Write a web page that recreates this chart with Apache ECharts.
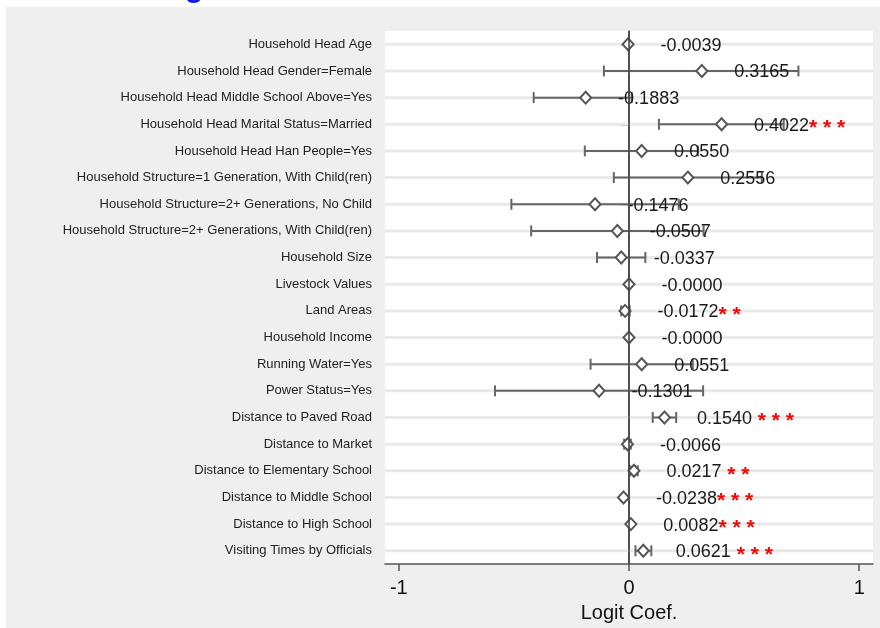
<!DOCTYPE html>
<html>
<head>
<meta charset="utf-8">
<script src="https://cdn.jsdelivr.net/npm/echarts@6/dist/echarts.min.js"></script>
<style>
html,body{margin:0;padding:0;background:#fff;}
#chart{width:880px;height:628px;}
</style>
</head>
<body>
<div id="chart"></div>
<script>
const categories = [
  'Household Head Age',
  'Household Head Gender=Female',
  'Household Head Middle School Above=Yes',
  'Household Head Marital Status=Married',
  'Household Head Han People=Yes',
  'Household Structure=1 Generation, With Child(ren)',
  'Household Structure=2+ Generations, No Child',
  'Household Structure=2+ Generations, With Child(ren)',
  'Household Size',
  'Livestock Values',
  'Land Areas',
  'Household Income',
  'Running Water=Yes',
  'Power Status=Yes',
  'Distance to Paved Road',
  'Distance to Market',
  'Distance to Elementary School',
  'Distance to Middle School',
  'Distance to High School',
  'Visiting Times by Officials'
];
const coefs = [-0.0039, 0.3165, -0.1883, 0.4022, 0.0550, 0.2556, -0.1476, -0.0507, -0.0337, -0.00002,
               -0.0172, -0.00002, 0.0551, -0.1301, 0.1540, -0.0066, 0.0217, -0.0238, 0.0082, 0.0621];
const lower = [null, -0.109, -0.414, 0.130, -0.192, -0.066, -0.511, -0.425, -0.139, null,
               -0.034, null, -0.167, -0.582, 0.103, -0.021, 0.005, null, null, 0.028];
const upper = [null, 0.736, 0.012, 0.672, 0.300, 0.577, 0.216, 0.324, 0.071, null,
               0.003, null, 0.277, 0.322, 0.205, 0.008, 0.038, null, null, 0.097];
const stars = ['', '', '', '***', '', '', '', '', '', '',
               '**', '', '', '', ' ***', '', ' **', '***', '***', ' ***'];
const xTicks = [-1, 0, 1];
const xName = 'Logit Coef.';

const chart = echarts.init(document.getElementById('chart'), null, {renderer: 'canvas'});
const FONT = 'Liberation Sans, Arial, sans-serif';

const errData = [];
categories.forEach((c, i) => { if (lower[i] !== null) errData.push([lower[i], upper[i], i]); });

const option = {
  backgroundColor: '#ffffff',
  animation: false,
  graphic: [
    {type: 'text', z: -20, left: 185, top: -26,
     style: {text: 'g', fontSize: 30, fontWeight: 'bold', fill: '#1010f0', fontFamily: FONT}},
    {type: 'rect', z: -10, shape: {x: 6, y: 7, width: 874, height: 621}, style: {fill: '#efefef'}}
  ],
  grid: {left: 385, right: 7, top: 31, bottom: 60, show: true, backgroundColor: '#ffffff', borderWidth: 0},
  xAxis: {
    type: 'value', min: -1.06, max: 1.06,
    name: xName, nameLocation: 'middle', nameGap: 37,
    nameTextStyle: {fontSize: 20, color: '#111', fontFamily: FONT},
    axisLine: {show: true, onZero: false, lineStyle: {color: '#555', width: 1.5}},
    axisTick: {show: true, length: 7, customValues: xTicks, lineStyle: {color: '#555', width: 1.5}},
    axisLabel: {customValues: xTicks, fontSize: 20, color: '#111', margin: 14, fontFamily: FONT},
    splitLine: {show: false}
  },
  yAxis: {
    type: 'category', data: categories, inverse: true,
    axisLine: {show: true, lineStyle: {color: '#555', width: 1.5}},
    axisTick: {show: true, alignWithLabel: true, length: 8, lineStyle: {color: '#555', width: 1.5}},
    axisLabel: {fontSize: 13, color: '#222', margin: 13, fontFamily: FONT},
    splitLine: {show: false}
  },
  series: [
    {
      type: 'custom', z: 1, silent: true,
      data: categories.map((c, i) => [0, i]),
      encode: {x: 0, y: 1},
      renderItem: function (params, api) {
        const cs = params.coordSys;
        const y = api.coord([0, api.value(1)])[1];
        return {type: 'line', shape: {x1: cs.x, y1: y, x2: cs.x + cs.width, y2: y},
                style: {stroke: '#e9e9e9', lineWidth: 3}};
      },
      markLine: {
        silent: true, symbol: ['none', 'none'], label: {show: false},
        lineStyle: {color: '#444', width: 1.6, type: 'solid'},
        data: [{xAxis: 0}]
      }
    },
    {
      type: 'custom', z: 2, silent: true,
      data: errData,
      encode: {x: [0, 1], y: 2},
      renderItem: function (params, api) {
        const c = api.value(2);
        const p1 = api.coord([api.value(0), c]);
        const p2 = api.coord([api.value(1), c]);
        const h = 5.5;
        const st = {stroke: '#666', lineWidth: 2};
        return {type: 'group', children: [
          {type: 'line', shape: {x1: p1[0], y1: p1[1], x2: p2[0], y2: p2[1]}, style: st},
          {type: 'line', shape: {x1: p1[0], y1: p1[1] - h, x2: p1[0], y2: p1[1] + h}, style: st},
          {type: 'line', shape: {x1: p2[0], y1: p2[1] - h, x2: p2[0], y2: p2[1] + h}, style: st}
        ]};
      }
    },
    {
      type: 'scatter', z: 3,
      data: coefs.map((v, i) => [v, i]),
      symbol: 'diamond', symbolSize: [11, 12],
      itemStyle: {color: '#ffffff', borderColor: '#555', borderWidth: 2, opacity: 1},
      label: {
        show: true, position: 'right', distance: 26, offset: [0, 1.5],
        formatter: function (p) {
          const i = p.dataIndex;
          let txt = '{v|' + coefs[i].toFixed(4) + '}';
          const s = stars[i];
          if (s) {
            const lead = s.startsWith(' ') ? ' ' : '';
            txt += '{s|' + lead + s.trim().split('').join(' ') + '}';
          }
          return txt;
        },
        rich: {
          v: {fontSize: 18, color: '#1a1a1a', fontFamily: FONT},
          s: {fontSize: 21, fontWeight: 'bold', color: '#ff0000', fontFamily: FONT, padding: [5, 0, 0, 0]}
        }
      },
      emphasis: {disabled: true}
    }
  ]
};
chart.setOption(option);
</script>
</body>
</html>
